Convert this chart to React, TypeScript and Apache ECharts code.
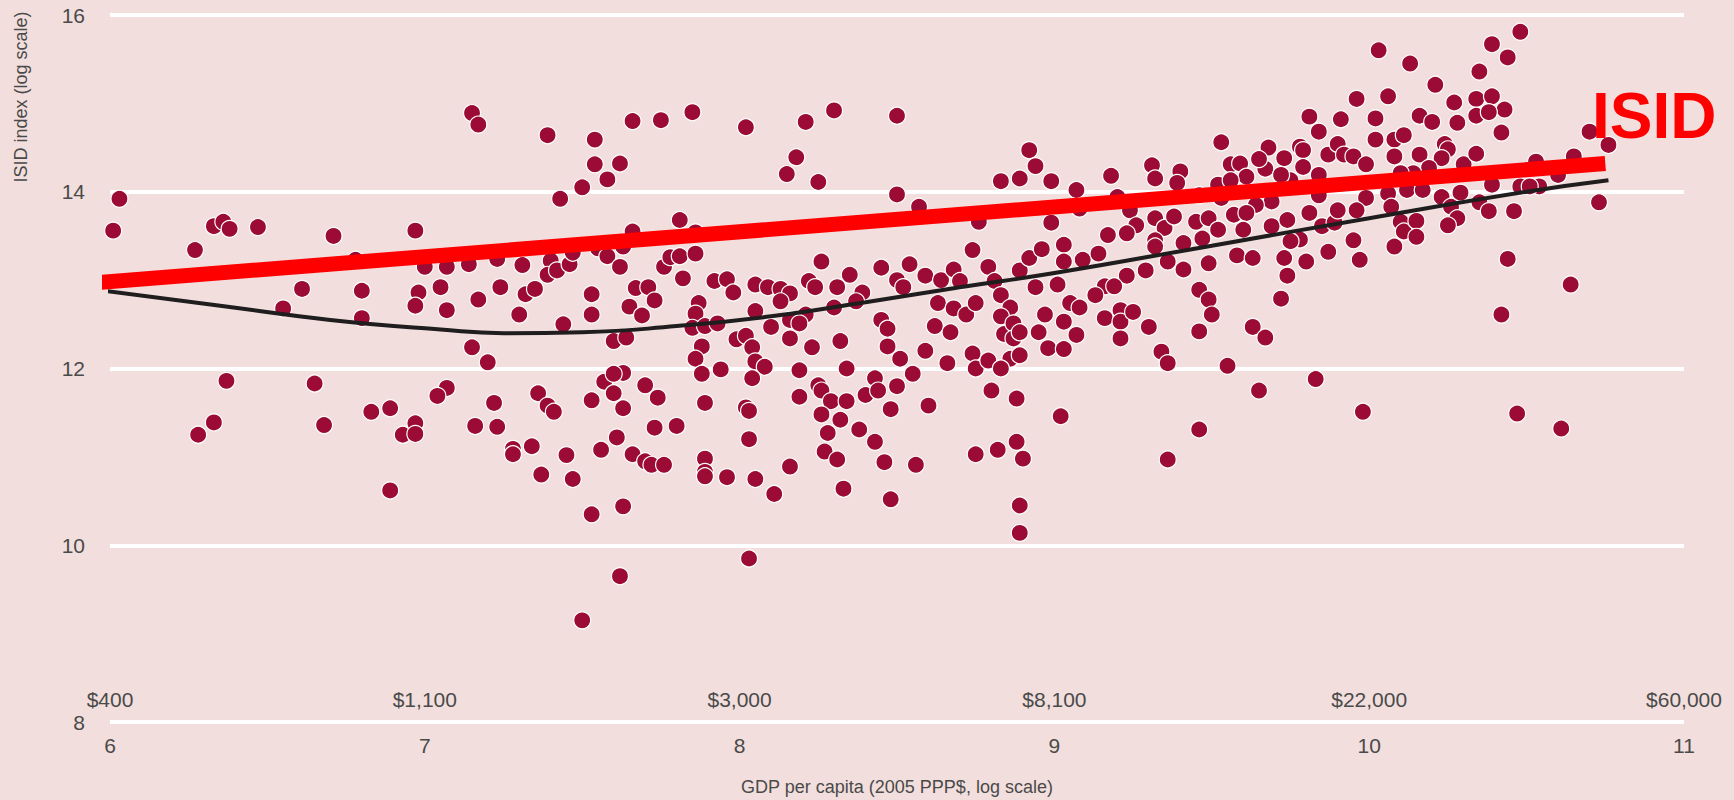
import React, { useEffect, useRef } from "react";
import * as echarts from "echarts";

const xTicks = [6, 7, 8, 9, 10, 11];
const dollarLabels = ["$400", "$1,100", "$3,000", "$8,100", "$22,000", "$60,000"];
const yTicks = [8, 10, 12, 14, 16];

const band6: [number, number][] = [
  [6.03, 13.92], [5.99, 13.54], [6.01, 13.56], [6.27, 13.34], [6.33, 13.61], [6.36, 13.66], [6.38, 13.58], [6.47, 13.6],
  [6.71, 13.5], [6.97, 13.56], [6.78, 13.23], [6.61, 12.9], [6.55, 12.68], [6.8, 12.88], [6.8, 12.57], [6.98, 12.86],
  [6.97, 12.71], [7.0, 13.15], [6.37, 11.86], [6.65, 11.83], [6.33, 11.39], [6.28, 11.25], [6.68, 11.36], [6.83, 11.51],
  [6.89, 11.55], [6.93, 11.25], [6.97, 11.38], [6.97, 11.26], [6.89, 10.62],
];

const band7: [number, number][] = [
  [7.15, 14.89], [7.17, 14.76], [7.39, 14.64], [7.54, 14.59], [7.54, 14.31], [7.62, 14.32], [7.58, 14.14], [7.5, 14.05],
  [7.43, 13.92], [7.66, 14.8], [7.75, 14.81], [7.85, 14.9], [7.81, 13.68], [7.66, 13.55], [7.86, 13.54],
  [7.07, 13.15], [7.14, 13.18], [7.23, 13.24], [7.31, 13.17], [7.4, 13.22], [7.39, 13.06], [7.42, 13.11], [7.46, 13.18],
  [7.47, 13.31], [7.05, 12.92], [7.07, 12.66], [7.17, 12.78], [7.24, 12.92], [7.32, 12.84], [7.35, 12.9], [7.3, 12.61],
  [7.44, 12.5], [7.53, 12.84], [7.53, 12.61], [7.55, 13.36], [7.58, 13.27], [7.62, 13.15], [7.63, 13.38], [7.67, 12.91],
  [7.71, 12.92], [7.73, 12.77], [7.65, 12.7], [7.69, 12.6], [7.76, 13.15], [7.78, 13.26], [7.81, 13.27], [7.86, 13.3],
  [7.82, 13.02], [7.92, 12.99], [7.96, 13.01], [7.98, 12.86], [7.87, 12.74], [7.86, 12.62], [7.85, 12.46], [7.89, 12.48],
  [7.93, 12.51], [7.99, 12.33], [7.6, 12.31], [7.64, 12.35], [7.15, 12.24], [7.2, 12.07], [7.88, 12.25], [7.86, 12.11],
  [7.88, 11.94], [7.94, 11.99], [7.07, 11.78], [7.04, 11.69], [7.22, 11.61], [7.16, 11.35], [7.23, 11.34], [7.36, 11.72],
  [7.39, 11.58], [7.41, 11.51], [7.28, 11.09], [7.28, 11.03], [7.34, 11.12], [7.37, 10.8], [7.45, 11.02], [7.47, 10.75],
  [7.53, 11.64], [7.57, 11.85], [7.6, 11.72], [7.63, 11.95], [7.6, 11.94], [7.63, 11.55], [7.7, 11.81], [7.74, 11.67],
  [7.61, 11.22], [7.56, 11.08], [7.66, 11.03], [7.7, 10.95], [7.72, 10.91], [7.76, 10.91], [7.73, 11.33], [7.8, 11.35],
  [7.89, 11.61], [7.89, 10.98], [7.89, 10.83], [7.89, 10.78], [7.96, 10.77], [7.53, 10.35], [7.63, 10.44], [7.62, 9.65],
  [7.5, 9.15],
];

const band8: [number, number][] = [
  [8.02, 14.73], [8.21, 14.79], [8.3, 14.92], [8.5, 14.86], [8.18, 14.39], [8.15, 14.2], [8.25, 14.11], [8.5, 13.97],
  [8.57, 13.83], [8.92, 14.47], [8.94, 14.29], [8.89, 14.15], [8.83, 14.12], [8.99, 14.12], [8.76, 13.66], [8.99, 13.65],
  [8.74, 13.34], [8.26, 13.21], [8.05, 12.95], [8.09, 12.92], [8.13, 12.9], [8.16, 12.85], [8.13, 12.76], [8.22, 12.99],
  [8.24, 12.92], [8.31, 12.92], [8.35, 13.06], [8.39, 12.86], [8.37, 12.76], [8.3, 12.69], [8.21, 12.61], [8.16, 12.55],
  [8.19, 12.51], [8.05, 12.65], [8.1, 12.47], [8.16, 12.34], [8.23, 12.24], [8.32, 12.31], [8.02, 12.37], [8.04, 12.24],
  [8.05, 12.08], [8.08, 12.02], [8.04, 11.89], [8.19, 11.98], [8.34, 12.0], [8.45, 13.14], [8.5, 13.0], [8.54, 13.18],
  [8.52, 12.92], [8.45, 12.55], [8.47, 12.45], [8.47, 12.25], [8.51, 12.11], [8.59, 13.05], [8.64, 13.0], [8.68, 13.12],
  [8.7, 12.99], [8.63, 12.74], [8.68, 12.68], [8.72, 12.61], [8.75, 12.74], [8.79, 13.15], [8.81, 12.99], [8.83, 12.83],
  [8.86, 12.69], [8.89, 13.11], [8.92, 13.25], [8.96, 13.35], [8.94, 12.92], [8.97, 12.61], [8.62, 12.48], [8.67, 12.41],
  [8.59, 12.2], [8.66, 12.06], [8.55, 11.94], [8.74, 12.17], [8.75, 12.0], [8.79, 12.09], [8.83, 12.59], [8.84, 12.39],
  [8.87, 12.51], [8.87, 12.34], [8.89, 12.41], [8.86, 12.11], [8.83, 12.0], [8.95, 12.41], [8.98, 12.23], [8.89, 12.15],
  [8.02, 11.56], [8.03, 11.52], [8.03, 11.2], [8.05, 10.75], [8.11, 10.58], [8.16, 10.89], [8.19, 11.68], [8.25, 11.81],
  [8.26, 11.75], [8.29, 11.63], [8.34, 11.63], [8.26, 11.48], [8.32, 11.42], [8.28, 11.27], [8.27, 11.06], [8.31, 10.97],
  [8.38, 11.31], [8.43, 11.17], [8.4, 11.7], [8.43, 11.89], [8.44, 11.75], [8.5, 11.8], [8.48, 11.54], [8.46, 10.94],
  [8.33, 10.64], [8.48, 10.52], [8.56, 10.91], [8.6, 11.58], [8.8, 11.75], [8.88, 11.66], [8.75, 11.03], [8.82, 11.08],
  [8.88, 11.17], [8.9, 10.98], [8.89, 10.45], [8.89, 10.14], [8.03, 9.85],
];

const band9: [number, number][] = [
  [9.07, 14.02], [9.18, 14.18], [9.31, 14.3], [9.32, 14.15], [9.4, 14.23], [9.39, 14.1], [9.46, 13.96], [9.2, 13.94],
  [9.08, 13.81], [9.24, 13.79], [9.26, 13.62], [9.23, 13.53], [9.17, 13.51], [9.03, 13.4], [9.03, 13.21], [9.09, 13.23],
  [9.14, 13.3], [9.01, 12.95], [9.32, 13.7], [9.35, 13.59], [9.38, 13.72], [9.32, 13.45], [9.32, 13.38], [9.41, 13.42],
  [9.45, 13.66], [9.47, 13.47], [9.49, 13.7], [9.23, 13.05], [9.29, 13.11], [9.36, 13.21], [9.41, 13.12], [9.49, 13.19],
  [9.16, 12.93], [9.19, 12.93], [9.13, 12.83], [9.05, 12.74], [9.08, 12.69], [9.03, 12.53], [9.07, 12.38], [9.03, 12.22],
  [9.16, 12.57], [9.21, 12.66], [9.21, 12.53], [9.25, 12.64], [9.21, 12.34], [9.3, 12.47], [9.46, 12.89], [9.49, 12.78],
  [9.5, 12.61], [9.46, 12.42], [9.34, 12.19], [9.36, 12.06], [9.02, 11.46], [9.46, 11.31], [9.36, 10.97],
  [9.96, 15.05], [9.81, 14.85], [9.91, 14.82], [9.84, 14.68], [9.53, 14.56], [9.56, 14.31], [9.59, 14.32], [9.61, 14.17],
  [9.68, 14.5], [9.67, 14.26], [9.73, 14.38], [9.78, 14.51], [9.79, 14.47], [9.79, 14.28], [9.87, 14.42], [9.9, 14.54],
  [9.92, 14.42], [9.95, 14.4], [9.99, 14.31], [9.84, 14.19], [9.52, 14.08], [9.75, 14.13], [9.84, 13.96], [9.99, 13.93],
  [9.53, 13.93], [9.69, 13.89], [9.64, 13.85], [9.57, 13.74], [9.61, 13.76], [9.52, 13.57], [9.6, 13.57], [9.69, 13.61],
  [9.74, 13.68], [9.81, 13.76], [9.78, 13.46], [9.75, 13.44], [9.85, 13.61], [9.89, 13.65], [9.9, 13.79], [9.96, 13.79],
  [9.95, 13.45], [9.58, 13.28], [9.63, 13.25], [9.73, 13.25], [9.8, 13.21], [9.87, 13.32], [9.97, 13.23], [9.74, 13.05],
  [9.72, 12.79], [9.63, 12.47], [9.67, 12.35], [9.55, 12.03], [9.65, 11.75], [9.83, 11.88], [9.98, 11.51], [9.65, 14.37],
  [9.72, 14.19], [9.56, 14.13],
];

const band10: [number, number][] = [
  [10.03, 15.6], [10.13, 15.45], [10.21, 15.21], [10.35, 15.36], [10.39, 15.67], [10.44, 15.52], [10.48, 15.81],
  [10.06, 15.08], [10.27, 15.01], [10.34, 15.05], [10.39, 15.08], [10.43, 14.93], [10.34, 14.86], [10.38, 14.9],
  [10.28, 14.78], [10.42, 14.67], [10.16, 14.86], [10.2, 14.79], [10.02, 14.83], [10.02, 14.59], [10.08, 14.59],
  [10.11, 14.64], [10.08, 14.4], [10.16, 14.42], [10.24, 14.54], [10.25, 14.48], [10.23, 14.38], [10.3, 14.31],
  [10.34, 14.43], [10.19, 14.27], [10.14, 14.21], [10.1, 14.21], [10.39, 14.08], [10.48, 14.06], [10.06, 13.98],
  [10.12, 14.02], [10.17, 14.02], [10.23, 13.94], [10.29, 13.99], [10.07, 13.83], [10.35, 13.88], [10.38, 13.78],
  [10.46, 13.78], [10.26, 13.83], [10.28, 13.7], [10.25, 13.62], [10.1, 13.66], [10.11, 13.55], [10.15, 13.67],
  [10.15, 13.49], [10.08, 13.38], [10.44, 13.24], [10.42, 12.61], [10.47, 11.49],
  [10.7, 14.68], [10.76, 14.53], [10.65, 14.4], [10.53, 14.34], [10.6, 14.19], [10.54, 14.06], [10.51, 14.06],
  [10.73, 13.88], [10.64, 12.95], [10.61, 11.32],
];

const fittedCurve: [number, number][] = [
  [5.96, 12.89], [6.35, 12.71], [6.7, 12.55], [7.05, 12.44], [7.25, 12.4], [7.5, 12.41], [7.8, 12.48],
  [8.1, 12.59], [8.4, 12.75], [8.7, 12.92], [9.0, 13.08], [9.5, 13.39], [10.0, 13.7], [10.5, 14.0], [10.76, 14.13],
];

const isidLine: [number, number][] = [
  [5.95, 12.97],
  [10.75, 14.32],
];

const FONT = '"Liberation Sans Narrow", "Liberation Sans", Arial, sans-serif';
const TEXT = "#4a4a4a";

export default function App() {
  const ref = useRef<HTMLDivElement>(null);
  useEffect(() => {
    document.body.style.margin = "0";
    document.body.style.background = "#f2dfdd";
    const chart = echarts.init(ref.current!, null, { renderer: "svg" });
    const common = {
      type: "value" as const,
      min: 6,
      max: 11,
      interval: 1,
      axisLine: { show: false },
      axisTick: { show: false },
      splitLine: { show: false },
    };
    chart.setOption({
      animation: false,
      backgroundColor: "#f2dfdd",
      grid: { left: 110, right: 50, top: 15, bottom: 78, outerBoundsMode: "none", containLabel: false },
      xAxis: [
        {
          ...common,
          position: "bottom",
          axisLabel: {
            margin: 13,
            fontSize: 21,
            fontFamily: FONT,
            color: TEXT,
            formatter: (v: number) => (xTicks.includes(v) ? String(v) : ""),
          },
        },
        {
          ...common,
          position: "bottom",
          offset: 0,
          axisLabel: {
            inside: true,
            margin: 12,
            fontSize: 21,
            fontFamily: FONT,
            color: TEXT,
            formatter: (v: number) => {
              const i = xTicks.indexOf(v);
              return i >= 0 ? dollarLabels[i] : "";
            },
          },
        },
      ],
      yAxis: {
        type: "value",
        min: 8,
        max: 16,
        interval: 2,
        axisLine: { show: false },
        axisTick: { show: false },
        splitLine: { show: true, lineStyle: { color: "#ffffff", width: 4 } },
        axisLabel: {
          margin: 25,
          fontSize: 21,
          fontFamily: FONT,
          color: TEXT,
          formatter: (v: number) => (yTicks.includes(v) ? String(v) : ""),
        },
      },
      graphic: [
        {
          type: "text",
          x: 21,
          y: 97,
          rotation: Math.PI / 2,
          style: {
            text: "ISID index (log scale)",
            fontSize: 18,
            fontFamily: FONT,
            fill: TEXT,
            align: "center",
            verticalAlign: "middle",
          },
        },
        {
          type: "text",
          x: 897,
          y: 787,
          style: {
            text: "GDP per capita (2005 PPP$, log scale)",
            fontSize: 18,
            fontFamily: FONT,
            fill: TEXT,
            align: "center",
            verticalAlign: "middle",
          },
        },
        {
          type: "text",
          x: 1592,
          y: 116,
          z: 100,
          style: {
            text: "ISID",
            fontSize: 64,
            fontWeight: "bold",
            fontFamily: '"Liberation Sans", Arial, sans-serif',
            fill: "#ff0000",
            align: "left",
            verticalAlign: "middle",
          },
        },
      ],
      series: [
        {
          type: "scatter",
          xAxisIndex: 0,
          data: [...band6, ...band7, ...band8, ...band9, ...band10],
          symbol: "circle",
          symbolSize: 17,
          itemStyle: { color: "#9b0b33", borderColor: "#ffffff", borderWidth: 1.2, opacity: 1 },
          z: 2,
        },
        {
          type: "line",
          xAxisIndex: 0,
          data: fittedCurve,
          smooth: true,
          showSymbol: false,
          symbol: "none",
          clip: false,
          lineStyle: { color: "#1f1d1d", width: 4 },
          z: 3,
        },
        {
          type: "line",
          xAxisIndex: 0,
          data: isidLine,
          showSymbol: false,
          symbol: "none",
          clip: false,
          lineStyle: { color: "#ff0000", width: 15, cap: "butt" },
          z: 4,
        },
      ],
    });
    return () => chart.dispose();
  }, []);
  return <div ref={ref} style={{ width: 1734, height: 800 }} />;
}
